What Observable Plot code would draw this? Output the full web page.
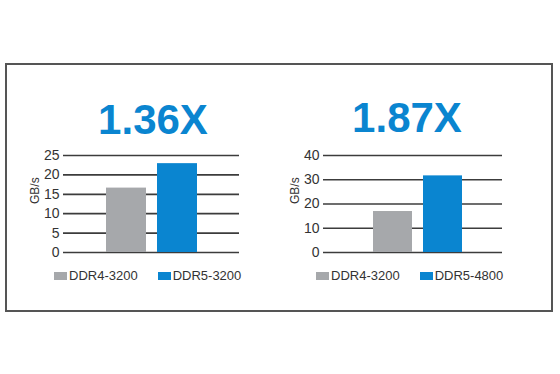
<!DOCTYPE html>
<html>
<head>
<meta charset="utf-8">
<script src="https://cdn.jsdelivr.net/npm/d3@7"></script>
<script src="https://cdn.jsdelivr.net/npm/@observablehq/plot@0.6"></script>
<style>
  html, body { margin: 0; padding: 0; background: #fff; }
  body { width: 560px; height: 374px; position: relative; overflow: hidden; font-family: "Liberation Sans", Arial, sans-serif; }
  .frame { position: absolute; left: 5px; top: 63px; width: 544px; height: 245px; border: 2px solid #555; }
  .title { position: absolute; width: 200px; text-align: center; font-size: 42px; line-height: 42px; font-weight: bold; color: #0a85d0; }
  .chart { position: absolute; }
  .legend { position: absolute; display: flex; align-items: center; font-size: 13px; color: #333; white-space: nowrap; font-family: "Liberation Sans", Arial, sans-serif; }
  .legend .sw { display: inline-block; width: 13px; height: 8px; margin-right: 2px; }
  .legend .item { display: flex; align-items: center; margin-right: 20px; }
</style>
</head>
<body>
<div class="frame"></div>
<script>
// ---- data ----
const leftTitle = "1.36X";
const rightTitle = "1.87X";
const leftNames = ["DDR4-3200", "DDR5-3200"];
const leftValues = [16.6, 22.9];
const leftTicks = [0, 5, 10, 15, 20, 25];
const rightNames = ["DDR4-3200", "DDR5-4800"];
const rightValues = [16.9, 31.6];
const rightTicks = [0, 10, 20, 30, 40];
const yLabel = "GB/s";
const barColors = ["#a6a8ab", "#0a85d0"];

function makeChart(names, values, ticks, opts) {
  const data = names.map((n, i) => ({name: n, value: values[i]}));
  const chart = Plot.plot({
    width: opts.width,
    height: opts.height,
    marginLeft: opts.marginLeft,
    marginRight: opts.marginRight,
    marginTop: opts.marginTop,
    marginBottom: opts.marginBottom,
    style: {fontSize: "14px", fontFamily: "'Liberation Sans', Arial, sans-serif", color: "#333", background: "transparent"},
    x: {domain: names, axis: null, paddingInner: 0.2157, paddingOuter: opts.paddingOuter, align: opts.align},
    y: {domain: [0, ticks[ticks.length - 1]], ticks: ticks, tickSize: 0, tickPadding: 4, label: null},
    color: {domain: names, range: barColors},
    marks: [
      Plot.ruleY(ticks, {stroke: "#3c3c3c", strokeWidth: 1.7}),
      Plot.barY(data, {x: "name", y: "value", fill: "name"}),
      Plot.text([yLabel], {frameAnchor: "left", dx: -28, rotate: -90, fill: "#333", fontSize: 12})
    ]
  });
  chart.classList.add("chart");
  chart.style.left = opts.left + "px";
  chart.style.top = opts.top + "px";
  document.body.appendChild(chart);

  const t = document.createElement("div");
  t.className = "title";
  t.textContent = opts.title;
  t.style.left = (opts.titleCenter - 100) + "px";
  t.style.top = opts.titleTop + "px";
  document.body.appendChild(t);

  const lg = document.createElement("div");
  lg.className = "legend";
  lg.style.left = opts.legendLeft + "px";
  lg.style.top = opts.legendTop + "px";
  names.forEach((n, i) => {
    const it = document.createElement("div");
    it.className = "item";
    const sw = document.createElement("span");
    sw.className = "sw";
    sw.style.background = barColors[i];
    it.appendChild(sw);
    it.appendChild(document.createTextNode(n));
    lg.appendChild(it);
  });
  document.body.appendChild(lg);
}

makeChart(leftNames, leftValues, leftTicks, {
  left: 20, top: 140, width: 230, height: 125,
  marginLeft: 43, marginRight: 11, marginTop: 15, marginBottom: 13,
  paddingOuter: 0.833, align: 0.5,
  title: leftTitle, titleCenter: 153, titleTop: 99,
  legendLeft: 54, legendTop: 268
});
makeChart(rightNames, rightValues, rightTicks, {
  left: 280, top: 140, width: 230, height: 125,
  marginLeft: 43, marginRight: 8, marginTop: 15, marginBottom: 13,
  paddingOuter: 0.863, align: 0.56,
  title: rightTitle, titleCenter: 407, titleTop: 97,
  legendLeft: 316, legendTop: 268
});
</script>
</body>
</html>
